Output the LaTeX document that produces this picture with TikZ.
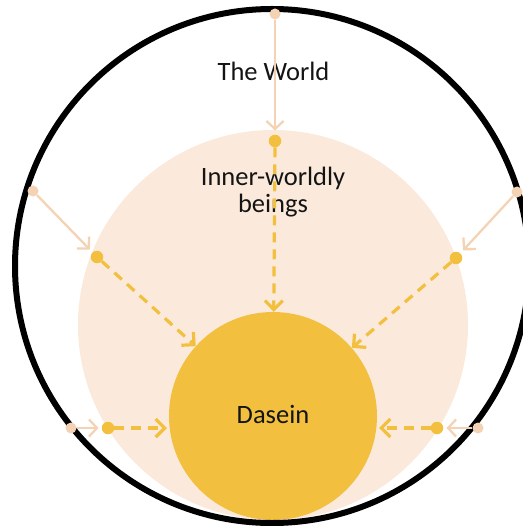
\documentclass[tikz,border=0pt]{standalone}
\usepackage{fontspec}
\setmainfont{Carlito}
\usetikzlibrary{arrows.meta}
\definecolor{peach}{HTML}{FBEADC}
\definecolor{beigeline}{HTML}{F4D3B5}
\definecolor{gold}{HTML}{F2C03E}
\begin{document}
\begin{tikzpicture}[x=1pt,y=-1pt,
  bdot/.style={circle,fill=beigeline,inner sep=0pt,minimum size=11pt},
  gdot/.style={circle,fill=gold,inner sep=0pt,minimum size=12.5pt},
  solidarrow/.style={draw=beigeline,line width=2.3pt,-{Straight Barb[length=8pt,width=17pt]},shorten >=4pt},
  dasharrow/.style={draw=gold,line width=3.2pt,dash pattern=on 10pt off 7pt,-{Straight Barb[length=9pt,width=18pt]}},
  lbl/.style={font=\fontsize{26.5}{27}\selectfont,text=black!92,align=center,inner sep=0pt}]
\useasboundingbox (0,0) rectangle (522,526);
% circles
\node[circle,fill=peach,minimum size=390pt,inner sep=0pt] (inner) at (273,325) {};
\node[circle,fill=gold,minimum size=208pt,inner sep=0pt] (dasein) at (273,416) {};
\node[circle,draw=black,line width=6pt,minimum size=514pt,inner sep=0pt] (world) at (272,266) {};
% labels
\node[lbl,anchor=base] (tworld) at (273.5,81) {The World};
\node[lbl,anchor=base] (tinner) at (273,213) {Inner-worldly\\beings};
\node[lbl,anchor=base] (tdasein) at (273,423) {Dasein};
% dots
\node[bdot] (bt) at (275,14) {};
\node[gdot] (gt) at (275,141) {};
\node[bdot] (bl) at (33,191) {};
\node[gdot] (gl) at (97,257) {};
\node[bdot] (br) at (517,192) {};
\node[gdot] (gr) at (456,258) {};
\node[bdot] (bhl) at (71,428) {};
\node[gdot] (ghl) at (108,428) {};
\node[bdot] (bhr) at (478,428) {};
\node[gdot] (ghr) at (437,428) {};
\coordinate (tipL) at (167,428);
\coordinate (tipR) at (379,428);
% solid connectors
\draw[solidarrow] (bt) -- (gt);
\draw[solidarrow] (bl) -- (gl);
\draw[solidarrow] (br) -- (gr);
\draw[solidarrow,shorten >=3pt] (bhl) -- (ghl);
\draw[solidarrow,shorten >=3pt] (bhr) -- (ghr);
% dashed connectors
\draw[dasharrow] (gt) -- (dasein);
\draw[dasharrow] (gl) -- (dasein);
\draw[dasharrow] (gr) -- (dasein);
\draw[dasharrow] (ghl) -- (tipL);
\draw[dasharrow] (ghr) -- (tipR);
\end{tikzpicture}
\end{document}
